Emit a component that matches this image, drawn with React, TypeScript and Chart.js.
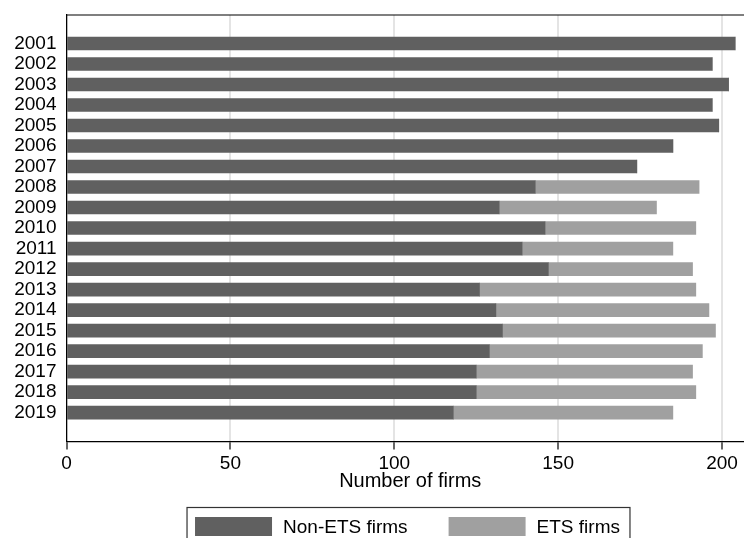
import React, { useEffect, useRef } from "react";
import { Chart, registerables } from "chart.js";

Chart.register(...registerables);

const years = [2001, 2002, 2003, 2004, 2005, 2006, 2007, 2008, 2009, 2010, 2011, 2012, 2013, 2014, 2015, 2016, 2017, 2018, 2019];
const nonEtsFirms = [204, 197, 202, 197, 199, 185, 174, 143, 132, 146, 139, 147, 126, 131, 133, 129, 125, 125, 118];
const etsFirms = [0, 0, 0, 0, 0, 0, 0, 50, 48, 46, 46, 44, 66, 65, 65, 65, 66, 67, 67];
const xTickValues = [0, 50, 100, 150, 200];
const seriesLabels = ["Non-ETS firms", "ETS firms"];
const seriesColors = ["#606060", "#a0a0a0"];
const xTitle = "Number of firms";

const FONT = "'Liberation Sans', Arial, Helvetica, sans-serif";
const FONT_SIZE = 19;
const TITLE_SIZE = 20;

const framePlugin = {
  id: "frameAndLegend",
  afterDraw(chart: any) {
    const { ctx, chartArea } = chart;
    ctx.save();
    // top border of plot region
    ctx.strokeStyle = "#000";
    ctx.lineWidth = 1.2;
    ctx.beginPath();
    ctx.moveTo(chartArea.left, chartArea.top);
    ctx.lineTo(chartArea.right, chartArea.top);
    ctx.stroke();

    // axis title
    ctx.font = `${TITLE_SIZE}px ${FONT}`;
    ctx.fillStyle = "#000";
    ctx.textAlign = "center";
    ctx.textBaseline = "alphabetic";
    ctx.fillText(xTitle, (chartArea.left + chartArea.right) / 2 + 5, chartArea.bottom + 45);

    // legend
    ctx.font = `${FONT_SIZE}px ${FONT}`;
    const ds = chart.data.datasets;
    const swW = 77;
    const swH = 19;
    const gapText = 11;
    const gapItem = 41;
    const padL = 8;
    const padR = 10;
    const w0 = ctx.measureText(ds[0].label).width;
    const w1 = ctx.measureText(ds[1].label).width;
    const total = padL + swW + gapText + w0 + gapItem + swW + gapText + w1 + padR;
    const cx = 408.5;
    const boxLeft = cx - total / 2;
    const boxTop = 507.5;
    ctx.strokeStyle = "#333";
    ctx.lineWidth = 1.2;
    ctx.strokeRect(boxLeft, boxTop, total, 60);
    const swTop = 517;
    let x = boxLeft + padL;
    ctx.textBaseline = "middle";
    ctx.textAlign = "left";
    for (let i = 0; i < 2; i++) {
      ctx.fillStyle = ds[i].backgroundColor;
      ctx.fillRect(x, swTop, swW, swH);
      x += swW + gapText;
      ctx.fillStyle = "#000";
      ctx.fillText(ds[i].label, x, swTop + swH / 2 + 1);
      x += (i === 0 ? w0 : w1) + gapItem;
    }
    ctx.restore();
  },
};

export default function App() {
  const ref = useRef<HTMLCanvasElement | null>(null);

  useEffect(() => {
    if (!ref.current) return;
    const chart = new Chart(ref.current, {
      type: "bar",
      data: {
        labels: years,
        datasets: [
          {
            label: seriesLabels[0],
            data: nonEtsFirms,
            backgroundColor: seriesColors[0],
            barThickness: 13,
          },
          {
            label: seriesLabels[1],
            data: etsFirms,
            backgroundColor: seriesColors[1],
            barThickness: 13,
          },
        ],
      },
      options: {
        indexAxis: "y",
        animation: false,
        responsive: false,
        maintainAspectRatio: false,
        layout: { padding: { left: 0, right: 0, top: 15, bottom: 0 } },
        plugins: {
          legend: { display: false },
          tooltip: { enabled: false },
        },
        scales: {
          x: {
            type: "linear",
            stacked: true,
            bounds: "data",
            min: 0,
            max: 206.7,
            afterBuildTicks: (scale: any) => {
              scale.ticks = xTickValues.map((v) => ({ value: v }));
            },
            afterFit: (scale: any) => {
              scale.height = 96.5;
              scale.paddingLeft = 0;
              scale.paddingRight = 0;
            },
            grid: {
              color: "#e4e4e4",
              lineWidth: 2,
              tickLength: 8,
              tickColor: "#000",
              tickWidth: 1.2,
            },
            border: { display: true, color: "#000", width: 1.2 },
            ticks: {
              color: "#000",
              padding: 3,
              maxRotation: 0,
              font: { family: FONT, size: FONT_SIZE },
              callback: (v: any) => String(v),
            },
            title: { display: false },
          },
          y: {
            type: "linear",
            stacked: true,
            reverse: true,
            bounds: "data",
            offset: false,
            min: years[0] - 1.39,
            max: years[years.length - 1] + 1.41,
            afterBuildTicks: (scale: any) => {
              scale.ticks = years.map((v) => ({ value: v }));
            },
            afterFit: (scale: any) => {
              scale.width = 66.5;
              scale.paddingTop = 0;
              scale.paddingBottom = 0;
            },
            grid: { display: false, drawTicks: false, tickLength: 0 },
            border: { display: true, color: "#000", width: 1.2 },
            ticks: {
              color: "#000",
              padding: 10,
              autoSkip: false,
              font: { family: FONT, size: FONT_SIZE },
              callback: (v: any) => String(v),
            },
          },
        },
      },
      plugins: [framePlugin],
    });
    return () => chart.destroy();
  }, []);

  return (
    <div style={{ position: "absolute", left: 0, top: 0, width: 744, height: 538, background: "#fff" }}>
      <canvas ref={ref} width={744} height={538} style={{ display: "block" }} />
    </div>
  );
}
